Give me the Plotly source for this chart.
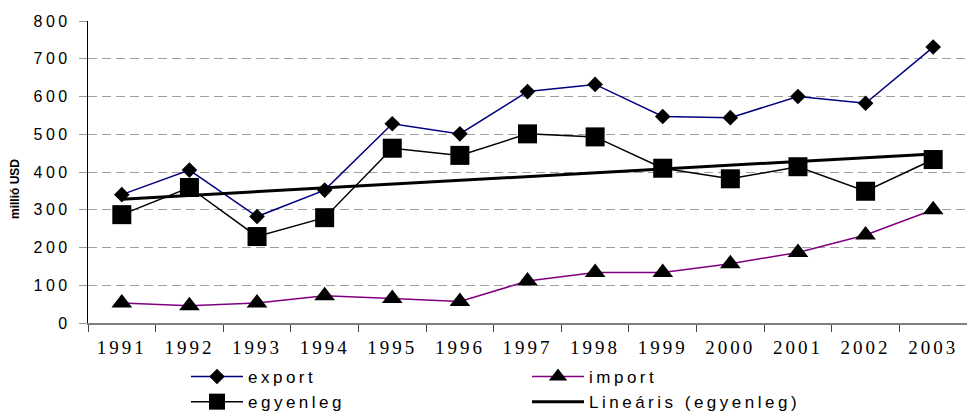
import numpy as np
import plotly.graph_objects as go

years = ["1991", "1992", "1993", "1994", "1995", "1996", "1997",
         "1998", "1999", "2000", "2001", "2002", "2003"]
export = [340, 405, 282, 352, 528, 501, 613, 632, 547, 544, 600, 582, 731]
imports = [53, 46, 53, 72, 65, 57, 111, 134, 134, 157, 187, 233, 300]
egyenleg = [287, 359, 229, 279, 463, 444, 501, 493, 410, 382, 414, 349, 433]
y_ticks = [0, 100, 200, 300, 400, 500, 600, 700, 800]

# linear trend of egyenleg (as the spreadsheet trendline)
idx = np.arange(len(years))
slope, intercept = np.polyfit(idx, egyenleg, 1)
trend = list(slope * idx + intercept)

def sp(t, ls):
    return f'<span style="letter-spacing:{ls}px">{t}</span>'

LS = 3.5
fig = go.Figure()
fig.add_trace(go.Scatter(
    x=years, y=export, name=sp("export", LS), mode="lines+markers",
    line=dict(color="#000080", width=1.5),
    marker=dict(symbol="diamond", size=12, color="black")))
fig.add_trace(go.Scatter(
    x=years, y=imports, name=sp("import", LS), mode="lines+markers",
    line=dict(color="#800080", width=1.5),
    marker=dict(symbol="triangle-up", size=18, color="black")))
fig.add_trace(go.Scatter(
    x=years, y=egyenleg, name=sp("egyenleg", LS), mode="lines+markers",
    line=dict(color="black", width=1.5),
    marker=dict(symbol="square", size=19, color="black")))
fig.add_trace(go.Scatter(
    x=years, y=trend, name=sp("Lineáris (egyenleg)", LS), mode="lines",
    line=dict(color="black", width=3)))

fig.update_layout(
    width=967, height=413,
    margin=dict(l=88, r=0, t=21, b=90, autoexpand=False),
    paper_bgcolor="white", plot_bgcolor="white",
    showlegend=True,
    legend=dict(
        orientation="h", x=(186 - 88) / 879, xanchor="left",
        y=-(359 - 323) / 302, yanchor="top",
        entrywidth=274, entrywidthmode="pixels",
        font=dict(family="Liberation Sans", size=17, color="black"),
        itemwidth=52, tracegroupgap=0, traceorder="normal",
        bgcolor="rgba(0,0,0,0)"),
    annotations=[dict(
        text="<b>millió USD</b>", xref="paper", yref="paper",
        x=(15 - 88) / 879, y=(323 - 189) / 302, showarrow=False,
        textangle=-90, xanchor="center", yanchor="middle",
        font=dict(family="Liberation Sans", size=12, color="black"))],
)

fig.update_xaxes(
    type="category", range=[-0.5, 12.5],
    tickmode="array", tickvals=years, ticktext=[sp(y, 3) for y in years],
    tickson="boundaries", ticks="outside", ticklen=7, tickcolor="#404040",
    showline=True, linecolor="#808080", linewidth=1.5,
    showgrid=False, zeroline=False,
    tickfont=dict(family="Liberation Serif", size=19, color="black"),
    ticklabelstandoff=6)

fig.update_yaxes(
    range=[0, 800], tickmode="array", tickvals=y_ticks,
    ticktext=[sp(str(v), 3.5) for v in y_ticks],
    ticks="outside", ticklen=8, tickcolor="#999999",
    showline=True, linecolor="black", linewidth=1.2,
    showgrid=True, gridcolor="#a0a0a0", griddash="9px,5px", gridwidth=1,
    zeroline=False,
    tickfont=dict(family="Liberation Sans", size=16, color="black"),
    ticklabelstandoff=5)

fig.write_html("out.html",
               config={"displayModeBar": False},
               post_script="document.body.style.margin='0';"
                           "document.body.style.overflow='hidden';")
